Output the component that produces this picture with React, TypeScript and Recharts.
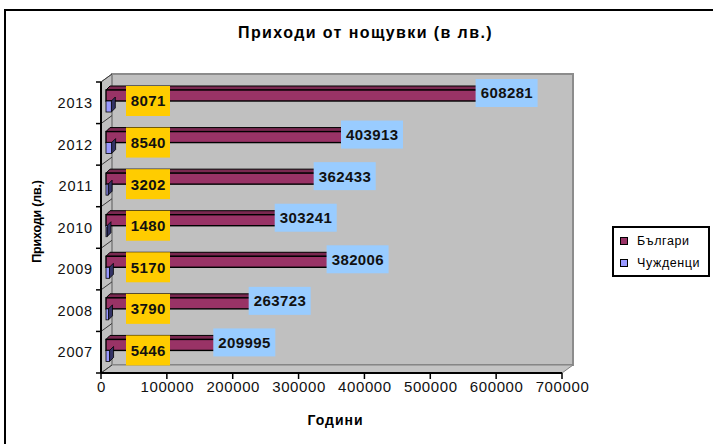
import React from 'react';
import { ComposedChart, Bar, XAxis, YAxis, ReferenceArea, LabelList, Legend } from 'recharts';

const years = ['2007', '2008', '2009', '2010', '2011', '2012', '2013'];
const bulgarians = [209995, 263723, 382006, 303241, 362433, 403913, 608281];
const foreigners = [5446, 3790, 5170, 1480, 3202, 8540, 8071];
const xTicks = [0, 100000, 200000, 300000, 400000, 500000, 600000, 700000];
const seriesNames = ['Българи', 'Чужденци'];
const seriesColors = ['#993366', '#9999FF'];
const title = 'Приходи от нощувки (в лв.)';
const xTitle = 'Години';
const yTitle = 'Приходи (лв.)';

const data = years.map((y, i) => ({ year: y, bg: bulgarians[i], fr: foreigners[i] }));

const W = 713;
const H = 444;
const FONT = '"Liberation Sans", Arial, Helvetica, sans-serif';
const DX = 11; // wall depth
const DY = 8;
const BX = 5; // bar depth shift
const BY = 2;
const T = 4; // bar top face depth

const rectOf = (p: any) => {
  const v = p.viewBox && typeof p.viewBox.width === 'number' ? p.viewBox : p;
  return { x: Number(v.x), y: Number(v.y), w: Number(v.width), h: Number(v.height) };
};

const Wall = (p: any) => {
  const { x, y, width: w, height: h } = p;
  const n = years.length;
  const band = h / n;
  const lines = [];
  for (let k = 0; k <= n; k++) {
    const yy = y + k * band;
    lines.push(
      <line key={'s' + k} x1={x} y1={yy} x2={x + DX} y2={yy - DY} stroke="#3a3a3a" strokeWidth={1} />
    );
    lines.push(
      <line key={'t' + k} x1={x - 5} y1={yy} x2={x} y2={yy} stroke="#000" strokeWidth={1.5} />
    );
  }
  return (
    <g>
      <polygon
        points={`${x},${y} ${x + DX},${y - DY} ${x + DX},${y + h - DY} ${x},${y + h}`}
        fill="#C0C0C0"
        stroke="#808080"
        strokeWidth={1}
      />
      <rect x={x + DX} y={y - DY} width={w} height={h} fill="#C0C0C0" stroke="#8c8c8c" strokeWidth={2} />
      <polygon
        points={`${x},${y + h} ${x + DX},${y + h - DY} ${x + DX + w},${y + h - DY} ${x + w},${y + h}`}
        fill="#C4C4C4"
        stroke="#808080"
        strokeWidth={1}
      />
      {lines}
    </g>
  );
};

const BgBar = (p: any) => {
  const { x, y, width: w, height: h } = p;
  if (!(w > 0)) return null;
  const fx = x + BX;
  const fy = y - BY;
  return (
    <g>
      <polygon
        points={`${fx},${fy} ${fx + T},${fy - T} ${fx + w + T},${fy - T} ${fx + w},${fy}`}
        fill="#7a2850"
        stroke="#000"
        strokeWidth={1}
      />
      <polygon
        points={`${fx + w},${fy} ${fx + w + T},${fy - T} ${fx + w + T},${fy + h - T} ${fx + w},${fy + h}`}
        fill="#5a1d3b"
        stroke="#000"
        strokeWidth={1}
      />
      <rect x={fx} y={fy} width={w} height={h} fill={seriesColors[0]} stroke="#000" strokeWidth={1.4} />
    </g>
  );
};

const FrBar = (p: any) => {
  const { x, y, width: w, height: h } = p;
  if (!(w > 0)) return null;
  const fx = x + BX;
  const fy = y - BY;
  return (
    <g>
      <polygon
        points={`${fx + w},${fy} ${fx + w + T},${fy - T} ${fx + w + T},${fy + h - T} ${fx + w},${fy + h}`}
        fill="#333366"
        stroke="#000"
        strokeWidth={0.8}
      />
      <rect x={fx} y={fy} width={w} height={h} fill={seriesColors[1]} stroke="#000" strokeWidth={0.8} />
    </g>
  );
};

const BgLabel = (p: any) => {
  const r = rectOf(p);
  const cx = r.x + r.w + BX;
  const cy = r.y + 1;
  return (
    <g>
      <rect x={cx - 31} y={cy - 14} width={62} height={28} fill="#99CCFF" />
      <text
        x={cx + 0.3}
        y={cy}
        dy="0.36em"
        textAnchor="middle"
        fontFamily={FONT}
        fontWeight="bold"
        fontSize={15}
        letterSpacing={0.4}
        fill="#111"
      >
        {p.value}
      </text>
    </g>
  );
};

const FrLabel = (p: any) => {
  const r = rectOf(p);
  const cx = r.x + 47;
  const cy = r.y - 2;
  return (
    <g>
      <rect x={cx - 22} y={cy - 15} width={44} height={30} fill="#FFCC00" />
      <text
        x={cx + 0.3}
        y={cy}
        dy="0.36em"
        textAnchor="middle"
        fontFamily={FONT}
        fontWeight="bold"
        fontSize={15}
        letterSpacing={0.4}
        fill="#111"
      >
        {p.value}
      </text>
    </g>
  );
};

const XTick = (p: any) => (
  <text
    x={p.x + 0.5}
    y={p.y}
    dy="0.75em"
    textAnchor="middle"
    fontFamily={FONT}
    fontSize={15}
    letterSpacing={0.6}
    fill="#111"
  >
    {p.payload.value}
  </text>
);

const YTick = (p: any) => (
  <text
    x={p.x}
    y={p.y}
    dy="0.36em"
    textAnchor="end"
    fontFamily={FONT}
    fontSize={14.5}
    letterSpacing={0.8}
    fill="#111"
  >
    {p.payload.value}
  </text>
);

const XLabel = (p: any) => {
  const vb = p.viewBox || { x: 0, y: 0, width: 0, height: 0 };
  return (
    <text
      x={vb.x + vb.width / 2 + 4}
      y={vb.y + vb.height + 17}
      dy="0.36em"
      textAnchor="middle"
      fontFamily={FONT}
      fontWeight="bold"
      fontSize={14}
      letterSpacing={1}
      fill="#000"
    >
      {xTitle}
    </text>
  );
};

const YLabel = (p: any) => {
  const vb = p.viewBox || { x: 0, y: 0, width: 0, height: 0 };
  const cx = vb.x - 5;
  const cy = vb.y + vb.height / 2 - 6;
  return (
    <text
      x={cx}
      y={cy}
      dy="0.36em"
      textAnchor="middle"
      transform={`rotate(-90 ${cx} ${cy})`}
      fontFamily={FONT}
      fontWeight="bold"
      fontSize={12.5}
      letterSpacing={-0.2}
      fill="#000"
    >
      {yTitle}
    </text>
  );
};

const LegendBox = () => (
  <div
    style={{
      width: 94,
      height: 47,
      border: '2px solid #000',
      background: '#fff',
      fontFamily: FONT,
      fontSize: 12.5,
      letterSpacing: 0.6,
      color: '#000',
      boxSizing: 'content-box',
    }}
  >
    {seriesNames.map((n, i) => (
      <div key={n} style={{ display: 'flex', alignItems: 'center', height: 22, marginTop: i === 0 ? 2 : 0 }}>
        <span
          style={{
            display: 'inline-block',
            width: 6,
            height: 6,
            border: '1px solid #000',
            background: seriesColors[i],
            marginLeft: 6,
            marginRight: 9,
          }}
        />
        <span>{n}</span>
      </div>
    ))}
  </div>
);

export default function App() {
  return (
    <div style={{ position: 'absolute', left: 0, top: 0, width: W, height: H, overflow: 'hidden', background: '#fff' }}>
      <div
        style={{
          position: 'absolute',
          left: 4,
          top: 9,
          width: 800,
          height: 500,
          borderTop: '2px solid #000',
          borderLeft: '2px solid #000',
        }}
      />
      <div style={{ position: 'absolute', left: 0, top: 0 }}>
        <ComposedChart
          width={W}
          height={H}
          data={data}
          layout="vertical"
          margin={{ top: 82, right: 151, bottom: 41, left: 41 }}
          barSize={11}
          barGap={0}
        >
          <ReferenceArea x1={0} x2={700000} shape={Wall} ifOverflow="visible" />
          <XAxis
            type="number"
            domain={[0, 700000]}
            ticks={xTicks}
            interval={0}
            tick={<XTick />}
            tickSize={6}
            axisLine={{ stroke: '#000', strokeWidth: 2 }}
            tickLine={{ stroke: '#000', strokeWidth: 1.5 }}
            height={30}
            label={<XLabel />}
          />
          <YAxis
            type="category"
            dataKey="year"
            reversed
            width={60}
            interval={0}
            tick={<YTick />}
            tickLine={false}
            axisLine={{ stroke: '#000', strokeWidth: 2 }}
            label={<YLabel />}
          />
          <Bar dataKey="bg" name={seriesNames[0]} fill={seriesColors[0]} shape={BgBar} isAnimationActive={false}>
            <LabelList dataKey="bg" content={BgLabel} />
          </Bar>
          <Bar dataKey="fr" name={seriesNames[1]} fill={seriesColors[1]} shape={FrBar} isAnimationActive={false}>
            <LabelList dataKey="fr" content={FrLabel} />
          </Bar>
          <Legend
            layout="vertical"
            align="center"
            verticalAlign="middle"
            content={<LegendBox />}
            wrapperStyle={{ left: 612, top: 226, width: 98, height: 51 }}
          />
        </ComposedChart>
      </div>
      <div
        style={{
          position: 'absolute',
          left: 9,
          top: 24,
          width: W,
          textAlign: 'center',
          fontFamily: FONT,
          fontWeight: 'bold',
          fontSize: 16,
          letterSpacing: 1.4,
          lineHeight: '18px',
          color: '#000',
        }}
      >
        {title}
      </div>
    </div>
  );
}
